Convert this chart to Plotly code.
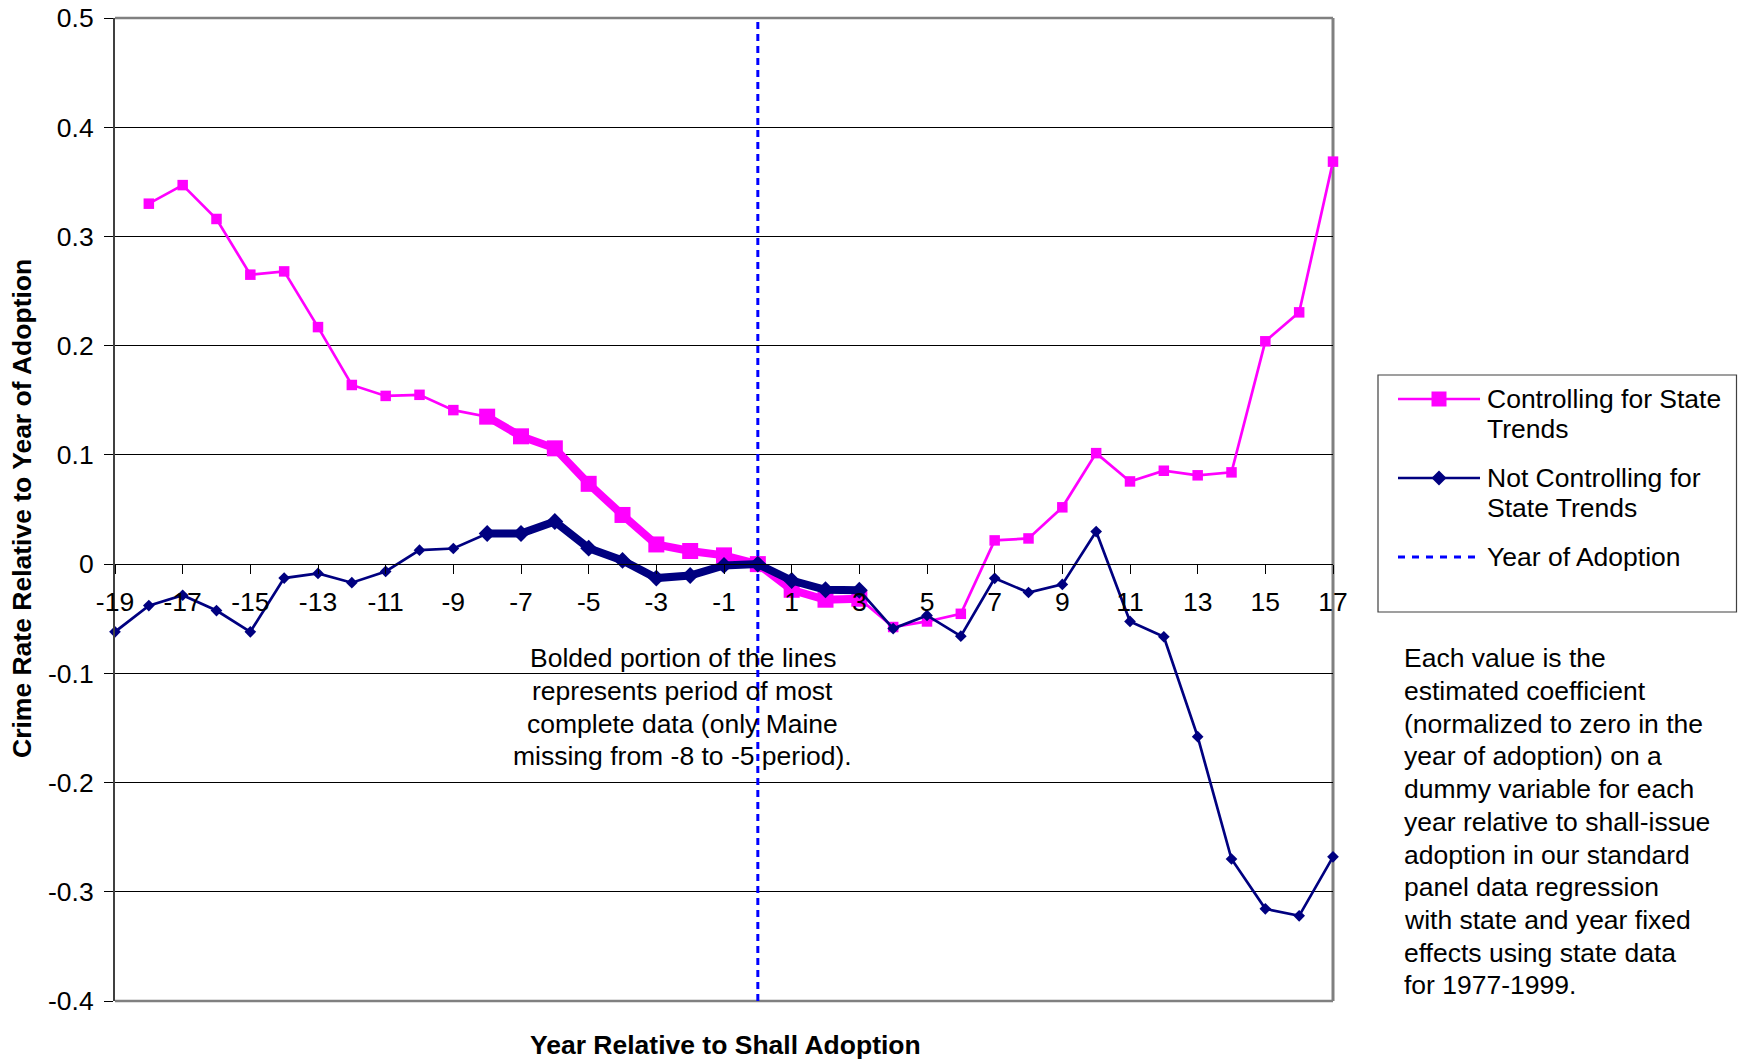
import plotly.graph_objects as go

# ---------------- data ----------------
YEARS = list(range(-19, 18))
CONTROLLING = [None, 0.330, 0.347, 0.316, 0.265, 0.268, 0.217, 0.164, 0.154, 0.155,
               0.141, 0.135, 0.117, 0.106, 0.0735, 0.045, 0.018, 0.012, 0.008, 0.0,
               -0.0235, -0.0326, -0.0317, -0.0576, -0.0525, -0.0455, 0.0217, 0.0235,
               0.052, 0.1016, 0.0757, 0.0855, 0.0813, 0.084, 0.204, 0.2305, 0.3685]
NOT_CONTROLLING = [-0.062, -0.038, -0.0285, -0.0425, -0.062, -0.0128, -0.0085, -0.017,
                   -0.0067, 0.0128, 0.0143, 0.028, 0.028, 0.039, 0.0146, 0.0034, -0.0128,
                   -0.0104, -0.0012, 0.0, -0.015, -0.0235, -0.024, -0.059, -0.047, -0.066,
                   -0.013, -0.026, -0.0186, 0.0298, -0.0525, -0.0665, -0.158, -0.270,
                   -0.3156, -0.322, -0.268]
BOLD_START, BOLD_END = -8, 3
ADOPTION_YEAR = 0
X_TICKS = list(range(-19, 18, 2))
X_TICK_LABELS = [str(v) for v in X_TICKS]
Y_TICKS = [-0.4, -0.3, -0.2, -0.1, 0.0, 0.1, 0.2, 0.3, 0.4, 0.5]
Y_TICK_LABELS = ["-0.4", "-0.3", "-0.2", "-0.1", "0", "0.1", "0.2", "0.3", "0.4", "0.5"]
Y_RANGE = [-0.4, 0.5]
X_RANGE = [-19, 17]

NOTE_LINES = ["Bolded portion of the lines", "represents period of most",
              "complete data (only Maine", "missing from -8 to -5 period)."]
CAPTION_LINES = ["Each value is the", "estimated coefficient", "(normalized to zero in the",
                 "year of adoption) on a", "dummy variable for each",
                 "year relative to shall-issue", "adoption in our standard",
                 "panel data regression", "with state and year fixed",
                 "effects using state data", "for 1977-1999."]
LEGEND_LINES = [["Controlling for State", "Trends"],
                ["Not Controlling for", "State Trends"],
                ["Year of Adoption"]]
X_TITLE = "Year Relative to Shall Adoption"
Y_TITLE = "Crime Rate Relative to Year of Adoption"

# ---------------- styling ----------------
MAGENTA = "#FF00FF"
NAVY = "#000080"
BLUE = "#0000FF"
GRAY = "#808080"
FONT = "Liberation Sans, Arial, sans-serif"
FS = 26.5

W, H = 1738, 1062
L, R, T, B = 115, 1333, 18, 1001


def PX(x):
    return (x - L) / (R - L)


def PY(y):
    return (B - y) / (B - T)


def sub(xs, ys, a, b):
    pts = [(x, y) for x, y in zip(xs, ys) if a <= x <= b]
    return [p[0] for p in pts], [p[1] for p in pts]


fig = go.Figure()

# year of adoption line
fig.add_trace(go.Scatter(x=[ADOPTION_YEAR, ADOPTION_YEAR], y=Y_RANGE, mode="lines",
                         line=dict(color=BLUE, width=3, dash="7px,5px"),
                         showlegend=False, hoverinfo="skip"))

# controlling (thin full + bold period)
fig.add_trace(go.Scatter(x=YEARS, y=CONTROLLING, mode="lines+markers",
                         line=dict(color=MAGENTA, width=2.7),
                         marker=dict(symbol="square", size=10.5, color=MAGENTA),
                         cliponaxis=False, showlegend=False))
bx, by = sub(YEARS, CONTROLLING, BOLD_START, BOLD_END)
fig.add_trace(go.Scatter(x=bx, y=by, mode="lines+markers",
                         line=dict(color=MAGENTA, width=8),
                         marker=dict(symbol="square", size=16, color=MAGENTA),
                         cliponaxis=False, showlegend=False))

# not controlling (thin full + bold period)
fig.add_trace(go.Scatter(x=YEARS, y=NOT_CONTROLLING, mode="lines+markers",
                         line=dict(color=NAVY, width=2.7),
                         marker=dict(symbol="diamond", size=9, color=NAVY),
                         cliponaxis=False, showlegend=False))
bx, by = sub(YEARS, NOT_CONTROLLING, BOLD_START, BOLD_END)
fig.add_trace(go.Scatter(x=bx, y=by, mode="lines+markers",
                         line=dict(color=NAVY, width=8),
                         marker=dict(symbol="diamond", size=13, color=NAVY),
                         cliponaxis=False, showlegend=False))

shapes = []
# plot area border (top, right, bottom) in gray
shapes.append(dict(type="line", xref="paper", yref="paper", x0=0, x1=1, y0=1, y1=1,
                   line=dict(color=GRAY, width=2.5), layer="between"))
shapes.append(dict(type="line", xref="paper", yref="paper", x0=1, x1=1, y0=0, y1=1,
                   line=dict(color=GRAY, width=3), layer="between"))
shapes.append(dict(type="line", xref="paper", yref="paper", x0=0, x1=1, y0=0, y1=0,
                   line=dict(color=GRAY, width=2.5), layer="between"))

# manual legend box
shapes.append(dict(type="rect", xref="paper", yref="paper",
                   x0=PX(1378), x1=PX(1736.5), y0=PY(612), y1=PY(375),
                   line=dict(color="#404040", width=1.2), fillcolor="white"))
row_y = [399, 478, 557]
for yy, col in zip(row_y[:2], [MAGENTA, NAVY]):
    shapes.append(dict(type="line", xref="paper", yref="paper",
                       x0=PX(1398), x1=PX(1480), y0=PY(yy), y1=PY(yy),
                       line=dict(color=col, width=2.7)))
shapes.append(dict(type="line", xref="paper", yref="paper",
                   x0=PX(1398), x1=PX(1480), y0=PY(row_y[2]), y1=PY(row_y[2]),
                   line=dict(color=BLUE, width=3, dash="7px,7px")))
shapes.append(dict(type="rect", xref="paper", yref="paper",
                   x0=PX(1439 - 7.5), x1=PX(1439 + 7.5),
                   y0=PY(row_y[0] + 7.5), y1=PY(row_y[0] - 7.5),
                   line=dict(width=0), fillcolor=MAGENTA))
cx, cy, d = 1439, row_y[1], 7.5
path = "M {} {} L {} {} L {} {} L {} {} Z".format(PX(cx - d), PY(cy), PX(cx), PY(cy - d),
                                                 PX(cx + d), PY(cy), PX(cx), PY(cy + d))
shapes.append(dict(type="path", xref="paper", yref="paper", path=path,
                   line=dict(width=0), fillcolor=NAVY))

annotations = []
for lines, yy in zip(LEGEND_LINES, row_y):
    for j, txt in enumerate(lines):
        annotations.append(dict(text=txt, xref="paper", yref="paper", x=PX(1485),
                                y=PY(yy + 30 * j), xanchor="left", yanchor="middle",
                                showarrow=False,
                                font=dict(family=FONT, size=FS, color="black")))

for i, txt in enumerate(NOTE_LINES):
    annotations.append(dict(text=txt, xref="paper", yref="paper", x=PX(682.5),
                            y=PY(658.3 + 32.6 * i), xanchor="center", yanchor="middle",
                            showarrow=False, font=dict(family=FONT, size=FS, color="black")))
for i, txt in enumerate(CAPTION_LINES):
    annotations.append(dict(text=txt, xref="paper", yref="paper", x=PX(1402),
                            y=PY(658.3 + 32.7 * i), xanchor="left", yanchor="middle",
                            showarrow=False, font=dict(family=FONT, size=FS, color="black")))

annotations.append(dict(text="<b>" + X_TITLE + "</b>", xref="paper", yref="paper",
                        x=PX(725), y=PY(1045), xanchor="center", yanchor="middle",
                        showarrow=False, font=dict(family=FONT, size=FS, color="black")))
annotations.append(dict(text="<b>" + Y_TITLE + "</b>", xref="paper", yref="paper",
                        x=PX(22), y=PY(509), xanchor="center", yanchor="middle",
                        textangle=-90, showarrow=False,
                        font=dict(family=FONT, size=FS, color="black")))

zero_pos = (0 - Y_RANGE[0]) / (Y_RANGE[1] - Y_RANGE[0])

fig.update_layout(
    width=W, height=H,
    margin=dict(l=L, r=W - R, t=T, b=H - B, pad=0, autoexpand=False),
    paper_bgcolor="white", plot_bgcolor="white",
    font=dict(family=FONT, size=FS, color="black"),
    showlegend=False,
    shapes=shapes, annotations=annotations,
    xaxis=dict(range=X_RANGE, tickmode="array", tickvals=X_TICKS, ticktext=X_TICK_LABELS,
               anchor="free", position=zero_pos, showgrid=False, zeroline=False,
               automargin=False,
               showline=True, linecolor="black", linewidth=1,
               ticks="outside", ticklen=9, tickwidth=1, tickcolor="black",
               ticklabelstandoff=5,
               tickfont=dict(family=FONT, size=FS, color="black")),
    yaxis=dict(range=Y_RANGE, tickmode="array", tickvals=Y_TICKS, ticktext=Y_TICK_LABELS,
               showgrid=True, gridcolor="black", gridwidth=1, zeroline=False,
               automargin=False,
               showline=True, linecolor="#404040", linewidth=2,
               ticks="outside", ticklen=9, tickwidth=1, tickcolor="black",
               ticklabelstandoff=5,
               tickfont=dict(family=FONT, size=FS, color="black")),
)

fig.write_html("out.html", config={"displayModeBar": False},
               post_script="document.body.style.margin='0px';document.body.style.overflow='hidden';")
